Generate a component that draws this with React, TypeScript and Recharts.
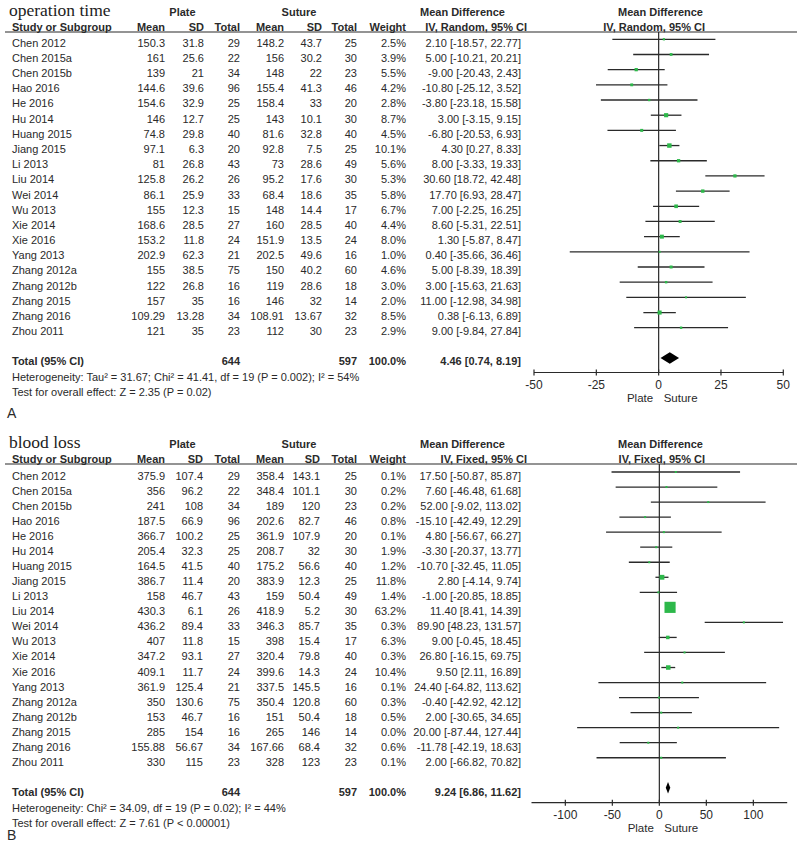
import React from 'react';
import { ScatterChart, Scatter, XAxis, YAxis, ErrorBar, ReferenceLine, ReferenceArea } from 'recharts';

const studies = [
  'Chen 2012', 'Chen 2015a', 'Chen 2015b', 'Hao 2016', 'He 2016', 'Hu 2014', 'Huang 2015', 'Jiang 2015',
  'Li 2013', 'Liu 2014', 'Wei 2014', 'Wu 2013', 'Xie 2014', 'Xie 2016', 'Yang 2013', 'Zhang 2012a',
  'Zhang 2012b', 'Zhang 2015', 'Zhang 2016', 'Zhou 2011',
];
const plateN = [29, 22, 34, 96, 25, 25, 40, 20, 43, 26, 33, 15, 27, 24, 21, 75, 16, 16, 34, 23];
const sutureN = [25, 30, 23, 46, 20, 30, 40, 25, 49, 30, 35, 17, 40, 24, 16, 60, 18, 14, 32, 23];

// A: operation time
const opPlateMean = [150.3, 161, 139, 144.6, 154.6, 146, 74.8, 97.1, 81, 125.8, 86.1, 155, 168.6, 153.2, 202.9, 155, 122, 157, 109.29, 121];
const opPlateSD = [31.8, 25.6, 21, 39.6, 32.9, 12.7, 29.8, 6.3, 26.8, 26.2, 25.9, 12.3, 28.5, 11.8, 62.3, 38.5, 26.8, 35, 13.28, 35];
const opSutureMean = [148.2, 156, 148, 155.4, 158.4, 143, 81.6, 92.8, 73, 95.2, 68.4, 148, 160, 151.9, 202.5, 150, 119, 146, 108.91, 112];
const opSutureSD = [43.7, 30.2, 22, 41.3, 33, 10.1, 32.8, 7.5, 28.6, 17.6, 18.6, 14.4, 28.5, 13.5, 49.6, 40.2, 28.6, 32, 13.67, 30];
const opWeight = [2.5, 3.9, 5.5, 4.2, 2.8, 8.7, 4.5, 10.1, 5.6, 5.3, 5.8, 6.7, 4.4, 8.0, 1.0, 4.6, 3.0, 2.0, 8.5, 2.9];
const opMD = [2.1, 5, -9, -10.8, -3.8, 3, -6.8, 4.3, 8, 30.6, 17.7, 7, 8.6, 1.3, 0.4, 5, 3, 11, 0.38, 9];
const opLo = [-18.57, -10.21, -20.43, -25.12, -23.18, -3.15, -20.53, 0.27, -3.33, 18.72, 6.93, -2.25, -5.31, -5.87, -35.66, -8.39, -15.63, -12.98, -6.13, -9.84];
const opHi = [22.77, 20.21, 2.43, 3.52, 15.58, 9.15, 6.93, 8.33, 19.33, 42.48, 28.47, 16.25, 22.51, 8.47, 36.46, 18.39, 21.63, 34.98, 6.89, 27.84];
const opTotal = [4.46, 0.74, 8.19];
const opTicks = [-50, -25, 0, 25, 50];

// B: blood loss
const blPlateMean = [375.9, 356, 241, 187.5, 366.7, 205.4, 164.5, 386.7, 158, 430.3, 436.2, 407, 347.2, 409.1, 361.9, 350, 153, 285, 155.88, 330];
const blPlateSD = [107.4, 96.2, 108, 66.9, 100.2, 32.3, 41.5, 11.4, 46.7, 6.1, 89.4, 11.8, 93.1, 11.7, 125.4, 130.6, 46.7, 154, 56.67, 115];
const blSutureMean = [358.4, 348.4, 189, 202.6, 361.9, 208.7, 175.2, 383.9, 159, 418.9, 346.3, 398, 320.4, 399.6, 337.5, 350.4, 151, 265, 167.66, 328];
const blSutureSD = [143.1, 101.1, 120, 82.7, 107.9, 32, 56.6, 12.3, 50.4, 5.2, 85.7, 15.4, 79.8, 14.3, 145.5, 120.8, 50.4, 146, 68.4, 123];
const blWeight = [0.1, 0.2, 0.2, 0.8, 0.1, 1.9, 1.2, 11.8, 1.4, 63.2, 0.3, 6.3, 0.3, 10.4, 0.1, 0.3, 0.5, 0.0, 0.6, 0.1];
const blMD = [17.5, 7.6, 52, -15.1, 4.8, -3.3, -10.7, 2.8, -1, 11.4, 89.9, 9, 26.8, 9.5, 24.4, -0.4, 2, 20, -11.78, 2];
const blLo = [-50.87, -46.48, -9.02, -42.49, -56.67, -20.37, -32.45, -4.14, -20.85, 8.41, 48.23, -0.45, -16.15, 2.11, -64.82, -42.92, -30.65, -87.44, -42.19, -66.82];
const blHi = [85.87, 61.68, 113.02, 12.29, 66.27, 13.77, 11.05, 9.74, 18.85, 14.39, 131.57, 18.45, 69.75, 16.89, 113.62, 42.12, 34.65, 127.44, 18.63, 70.82];
const blTotal = [9.24, 6.86, 11.62];
const blTicks = [-100, -50, 0, 50, 100];

const FONT = '"Liberation Sans", Arial, sans-serif';
const INK = '#2a2a2a';
const GREEN = '#2db84a';
const f2 = (v: number) => v.toFixed(2);
const ci = (m: number, l: number, h: number) => `${f2(m)} [${f2(l)}, ${f2(h)}]`;

const AxisTick = ({ x, y, payload }: any) => (
  <g>
    <line x1={x} x2={x} y1={y - 3} y2={y + 3} stroke={INK} strokeWidth={1.2} />
    <text x={x} y={y + 16} textAnchor="middle" fontSize={12} fill={INK} fontFamily={FONT}>{payload.value}</text>
  </g>
);

const square = (props: any) => {
  const s = Math.max(2, 1.4 * Math.sqrt(props.payload.weight));
  return <rect x={props.cx - s / 2} y={props.cy - s / 2} width={s} height={s} fill={GREEN} />;
};

interface PanelProps {
  title: string;
  method: string;
  plateMean: number[]; plateSD: number[]; sutureMean: number[]; sutureSD: number[];
  weight: number[]; md: number[]; lo: number[]; hi: number[]; total: number[];
  ticks: number[]; domain: [number, number];
  het: string; test: string; letter: string;
  // geometry
  base0: number; step: number; line0: number; plotTop: number; axisY: number; xLeft: number; xRight: number;
  sdCol: number; sSdCol: number;
}

const PanelText = (p: PanelProps) => {
  const rowY = (i: number) => p.base0 + p.step * i;
  const t = (x: number, y: number, s: string, anchor = 'start', bold = false, size = 11) => (
    <text x={x} y={y} textAnchor={anchor as any} fontSize={size} fontWeight={bold ? 'bold' : 'normal'} fill={INK} fontFamily={FONT}>{s}</text>
  );
  const h1 = p.plotTop - 16;
  const h2 = p.plotTop - 1.5;
  const totY = rowY(21);
  const lbY = p.axisY + 29;
  const zero = p.xLeft + (p.xRight - p.xLeft) * (0 - p.domain[0]) / (p.domain[1] - p.domain[0]);
  return (
    <g>
      <text x={9} y={h1} fontSize={17.5} fill="#222" fontFamily='"Liberation Serif", "Times New Roman", serif'>{p.title}</text>
      {t(182.5, h1, 'Plate', 'middle', true)}
      {t(299, h1, 'Suture', 'middle', true)}
      {t(420, h1, 'Mean Difference', 'start', true)}
      {t(703, h1, 'Mean Difference', 'end', true)}
      {t(12, h2, 'Study or Subgroup', 'start', true)}
      {t(165, h2, 'Mean', 'end', true)}
      {t(p.sdCol, h2, 'SD', 'end', true)}
      {t(240, h2, 'Total', 'end', true)}
      {t(284, h2, 'Mean', 'end', true)}
      {t(p.sSdCol, h2, 'SD', 'end', true)}
      {t(357, h2, 'Total', 'end', true)}
      {t(406, h2, 'Weight', 'end', true)}
      {t(527, h2, p.method, 'end', true)}
      {t(705, h2, p.method, 'end', true)}
      <line x1={5} x2={797} y1={p.plotTop} y2={p.plotTop} stroke={INK} strokeWidth={1.2} />
      {studies.map((s, i) => (
        <g key={s}>
          {t(12, rowY(i), s)}
          {t(165, rowY(i), String(p.plateMean[i]), 'end')}
          {t(p.sdCol, rowY(i), String(p.plateSD[i]), 'end')}
          {t(240, rowY(i), String(plateN[i]), 'end')}
          {t(284, rowY(i), String(p.sutureMean[i]), 'end')}
          {t(p.sSdCol, rowY(i), String(p.sutureSD[i]), 'end')}
          {t(357, rowY(i), String(sutureN[i]), 'end')}
          {t(406, rowY(i), p.weight[i].toFixed(1) + '%', 'end')}
          {t(521, rowY(i), ci(p.md[i], p.lo[i], p.hi[i]), 'end')}
        </g>
      ))}
      {t(12, totY, 'Total (95% CI)', 'start', true)}
      {t(240, totY, String(plateN.reduce((a, b) => a + b, 0)), 'end', true)}
      {t(357, totY, String(sutureN.reduce((a, b) => a + b, 0)), 'end', true)}
      {t(406, totY, '100.0%', 'end', true)}
      {t(521, totY, ci(p.total[0], p.total[1], p.total[2]), 'end', true)}
      {t(12, totY + 15.7, p.het)}
      {t(12, totY + 31, p.test)}
      {t(7, totY + (p.letter === 'A' ? 53 : 44), p.letter, 'start', false, 14)}
      {t(zero - 5.5, lbY, 'Plate', 'end', false, 11.5)}
      {t(zero + 5, lbY, 'Suture', 'start', false, 11.5)}
    </g>
  );
};

const PanelChart = (p: PanelProps) => {
  const rows = p.md.map((m, i) => ({ idx: i, md: m, err: [m - p.lo[i], p.hi[i] - m], weight: p.weight[i] }));
  const padTop = 10;
  const chartTop = p.plotTop - padTop;
  const height = padTop + (p.axisY - p.plotTop) + 30 + 4;
  const yDomain: [number, number] = [(p.plotTop - p.line0) / p.step, (p.axisY - p.line0) / p.step];
  const [m, l, h] = p.total;
  return (
    <div style={{ position: 'absolute', left: 0, top: chartTop }}>
      <ScatterChart width={800} height={height} margin={{ top: padTop, bottom: 4, left: p.xLeft, right: 800 - p.xRight }}>
        <XAxis type="number" dataKey="md" domain={p.domain} ticks={p.ticks} allowDataOverflow interval={0}
          axisLine={{ stroke: INK, strokeWidth: 1.2 }} tickLine={false} tickSize={0} tickMargin={0} height={30}
          tick={<AxisTick />} />
        <YAxis type="number" dataKey="idx" domain={yDomain} allowDataOverflow reversed hide width={0} />
        <ReferenceLine x={0} stroke={INK} strokeWidth={1.2} />
        <Scatter data={rows} shape={square} isAnimationActive={false}>
          <ErrorBar dataKey="err" direction="x" width={0} stroke={INK} strokeWidth={1.3} />
        </Scatter>
        <ReferenceArea x1={l} x2={h} y1={20.62} y2={21.38} ifOverflow="visible"
          shape={(r: any) => {
            const px = r.x + r.width * (m - l) / (h - l);
            const cy = r.y + r.height / 2;
            return <polygon points={`${r.x},${cy} ${px},${r.y} ${r.x + r.width},${cy} ${px},${r.y + r.height}`} fill="#000" />;
          }} />
      </ScatterChart>
    </div>
  );
};

const panelA: PanelProps = {
  title: 'operation time', method: 'IV, Random, 95% CI',
  plateMean: opPlateMean, plateSD: opPlateSD, sutureMean: opSutureMean, sutureSD: opSutureSD,
  weight: opWeight, md: opMD, lo: opLo, hi: opHi, total: opTotal, ticks: opTicks, domain: [-50, 50],
  het: 'Heterogeneity: Tau\u00b2 = 31.67; Chi\u00b2 = 41.41, df = 19 (P = 0.002); I\u00b2 = 54%',
  test: 'Test for overall effect: Z = 2.35 (P = 0.02)', letter: 'A',
  base0: 46.7, step: 15.18, line0: 39.3, plotTop: 32, axisY: 372.5, xLeft: 534, xRight: 783.3,
  sdCol: 204, sSdCol: 322,
};

const panelB: PanelProps = {
  title: 'blood loss', method: 'IV, Fixed, 95% CI',
  plateMean: blPlateMean, plateSD: blPlateSD, sutureMean: blSutureMean, sutureSD: blSutureSD,
  weight: blWeight, md: blMD, lo: blLo, hi: blHi, total: blTotal, ticks: blTicks, domain: [-136, 136],
  het: 'Heterogeneity: Chi\u00b2 = 34.09, df = 19 (P = 0.02); I\u00b2 = 44%',
  test: 'Test for overall effect: Z = 7.61 (P < 0.00001)', letter: 'B',
  base0: 480, step: 15.04, line0: 472, plotTop: 464, axisY: 802.7, xLeft: 531.5, xRight: 787.2,
  sdCol: 203, sSdCol: 320,
};

export default function App() {
  return (
    <div style={{ position: 'absolute', left: 0, top: 0, width: 800, height: 842, background: '#fff', overflow: 'hidden' }}>
      <svg width={800} height={842} style={{ position: 'absolute', left: 0, top: 0 }}>
        <PanelText {...panelA} />
        <PanelText {...panelB} />
      </svg>
      <PanelChart {...panelA} />
      <PanelChart {...panelB} />
    </div>
  );
}
